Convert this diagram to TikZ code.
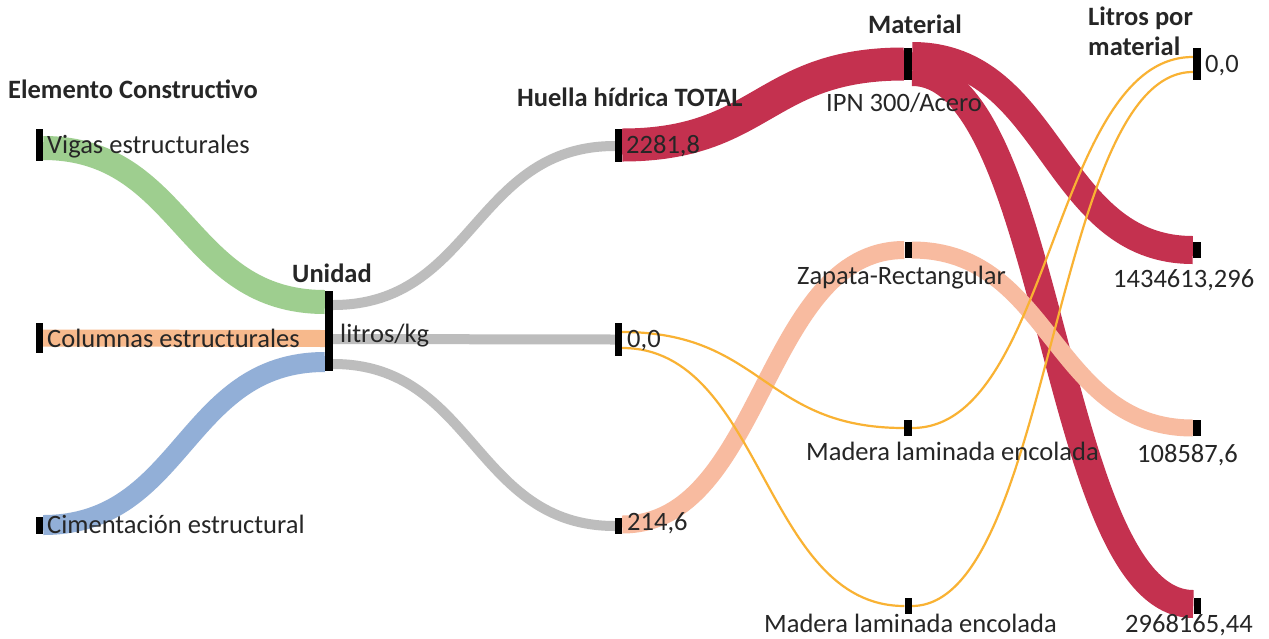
\documentclass[tikz,border=0pt]{standalone}
\usepackage{fontspec}
\setmainfont{Carlito}
\usetikzlibrary{calc,backgrounds}

\definecolor{txt}{HTML}{262626}
\definecolor{fgreen}{HTML}{9ECE8F}
\definecolor{forange}{HTML}{F7B98C}
\definecolor{fblue}{HTML}{92AFD7}
\definecolor{fgray}{HTML}{BDBDBD}
\definecolor{fred}{HTML}{C4314F}
\definecolor{fsalmon}{HTML}{F8BBA0}
\definecolor{fyellow}{HTML}{F9B233}

% Sankey-style ribbon: horizontal tangents at both ends, control points at mid x
\newcommand\sankeyflow[3]{%
  \path #2 coordinate (fa) #3 coordinate (fb);
  \draw[#1] (fa) .. controls ($(fa)!0.5!(fa-|fb)$) and ($(fb)!0.5!(fb-|fa)$) .. (fb);}

\begin{document}
\begin{tikzpicture}[x=1pt,y=-1pt,
  every node/.style={font=\fontsize{26.5}{30}\selectfont, text=txt, inner sep=0pt},
  bar/.style={fill=black, minimum width=7pt},
  lbl/.style={anchor=base west},
  hdr/.style={anchor=base west, font=\fontsize{26.5}{30}\selectfont\bfseries},
  ribbon/.style={line cap=butt}]

\useasboundingbox (0,0) rectangle (1269,638);

% stage bars
\node[bar, minimum height=32pt] (vigas)  at (39.5,145) {};
\node[bar, minimum height=30pt] (colum)  at (39.5,338) {};
\node[bar, minimum height=17pt] (cimen)  at (39.5,525) {};
\node[bar, minimum height=80pt, minimum width=8pt] (unidad) at (329,331) {};
\node[bar, minimum height=33pt] (tA) at (618.5,145) {};
\node[bar, minimum height=33pt] (tB) at (618.5,339.5) {};
\node[bar, minimum height=16pt] (tC) at (618.5,525.5) {};
\node[bar, minimum height=32pt, minimum width=8pt] (ipn)  at (908,64) {};
\node[bar, minimum height=16pt] (zap)  at (908,250) {};
\node[bar, minimum height=16pt, minimum width=8pt] (madA) at (908,428) {};
\node[bar, minimum height=16pt] (madB) at (908,606) {};
\node[bar, minimum height=32pt, minimum width=8pt] (rA) at (1197,64) {};
\node[bar, minimum height=16pt, minimum width=8pt] (rB) at (1197,250) {};
\node[bar, minimum height=16pt, minimum width=8pt] (rC) at (1197,428) {};
\node[bar, minimum height=16pt] (rD) at (1197,606) {};

\begin{scope}[on background layer]
  \fill[white] (0,0) rectangle (1269,638);
  % construction elements -> unit
  \sankeyflow{ribbon, fgreen, line width=24pt}{([yshift=-3pt]vigas.east)}{([yshift=29pt]unidad.west)}
  \sankeyflow{ribbon, forange, line width=17pt}{([yshift=0pt]colum.east)}{([yshift=-7.5pt]unidad.west)}
  \sankeyflow{ribbon, fblue, line width=20pt}{([yshift=0pt]cimen.east)}{([yshift=-31pt]unidad.west)}
  % unit -> total water footprint
  \sankeyflow{ribbon, fgray, line width=10pt}{([yshift=26pt]unidad.east)}{([yshift=-1pt]tA.west)}
  \sankeyflow{ribbon, fgray, line width=10pt}{([yshift=-8pt]unidad.east)}{(tB.west)}
  \sankeyflow{ribbon, fgray, line width=10pt}{([yshift=-33pt]unidad.east)}{([yshift=-0.5pt]tC.west)}
  % total -> material
  \sankeyflow{ribbon, fred, line width=33pt}{(tA.east)}{(ipn.west)}
  \sankeyflow{ribbon, fsalmon, line width=18pt}{([yshift=1pt]tC.east)}{(zap.west)}
  \sankeyflow{fyellow, line width=2.2pt}{([yshift=7.5pt]tB.east)}{(madA.west)}
  \sankeyflow{fyellow, line width=2.2pt}{([yshift=-8.5pt]tB.east)}{(madB.west)}
  % material -> litres per material
  \sankeyflow{ribbon, fred, line width=28pt}{([yshift=8pt]ipn.east)}{(rB.west)}
  \sankeyflow{ribbon, fred, line width=28pt}{([yshift=-8pt]ipn.east)}{([yshift=2pt]rD.west)}
  \sankeyflow{ribbon, fsalmon, line width=17pt}{(zap.east)}{(rC.west)}
  \sankeyflow{fyellow, line width=2.2pt}{(madA.east)}{([yshift=7pt]rA.west)}
  \sankeyflow{fyellow, line width=2.2pt}{(madB.east)}{([yshift=-8pt]rA.west)}
\end{scope}

% column headers
\node[hdr] (h1) at (8,98) {Elemento Constructivo};
\node[hdr] (h2) at (292,282.5) {Unidad};
\node[hdr] (h3) at (517,106) {Huella hídrica TOTAL};
\node[hdr] (h4) at (868,33) {Material};
\node[hdr] (h5) at (1088,25) {Litros por};
\node[hdr] (h6) at (1088,55) {material};

% node labels
\node[lbl] (l1) at (47,153) {Vigas estructurales};
\node[lbl] (l2) at (47,347.5) {Columnas estructurales};
\node[lbl] (l3) at (47,533) {Cimentación estructural};
\node[lbl] (l4) at (340,342) {litros/kg};
\node[lbl] (l5) at (626,153.5) {2281,8};
\node[lbl] (l6) at (627,347) {0,0};
\node[lbl] (l7) at (627,530) {214,6};
\node[lbl] (l8) at (826,111) {IPN 300/Acero};
\node[lbl] (l9) at (797,284) {Zapata-Rectangular};
\node[lbl] (l10) at (806,460) {Madera laminada encolada};
\node[lbl] (l11) at (764,632) {Madera laminada encolada};
\node[lbl] (l12) at (1205,72) {0,0};
\node[lbl] (l13) at (1113,287) {1434613,296};
\node[lbl] (l14) at (1137,462) {108587,6};
\node[lbl] (l15) at (1125,632) {2968165,44};
\end{tikzpicture}
\end{document}
